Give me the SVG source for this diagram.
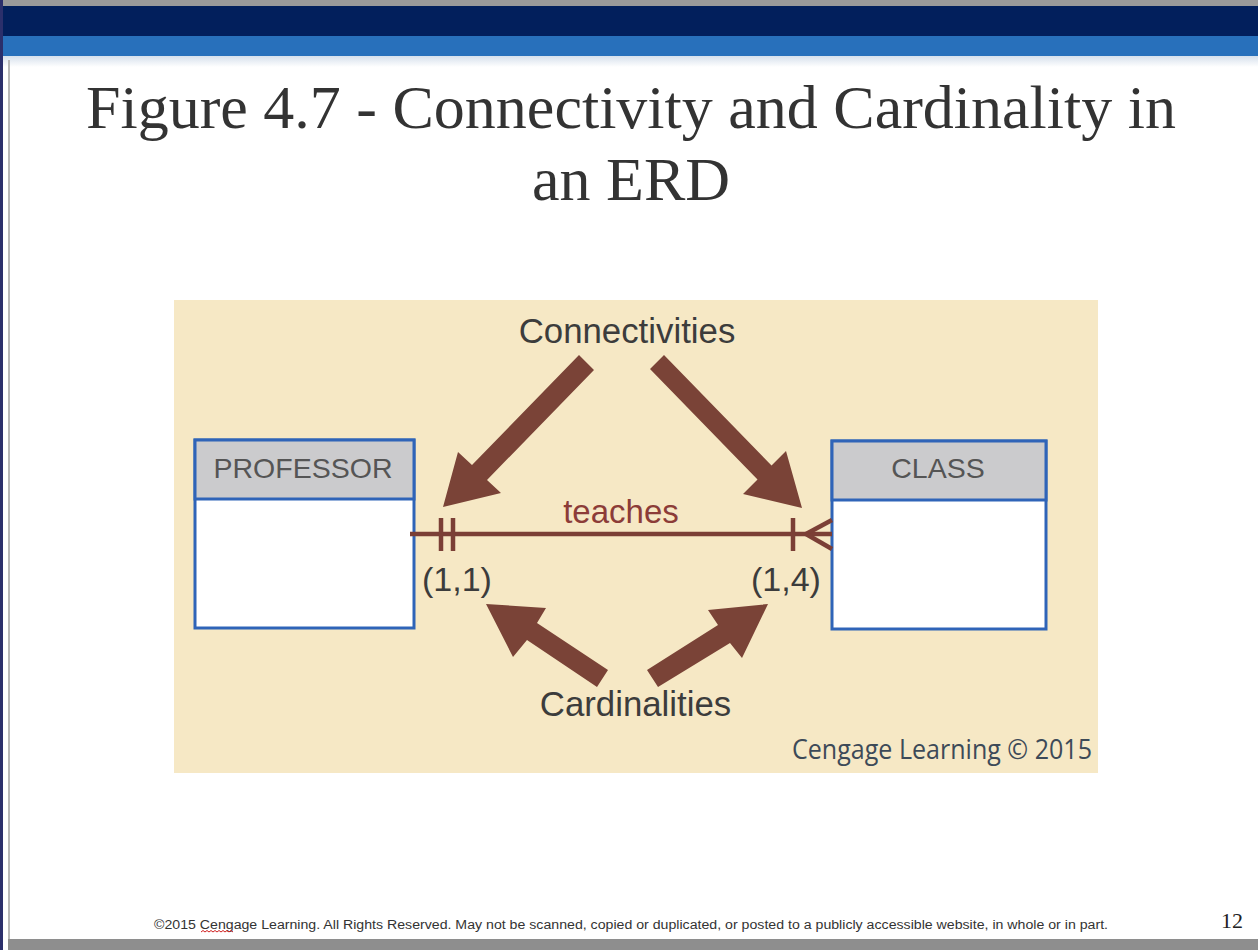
<svg xmlns="http://www.w3.org/2000/svg" width="1258" height="950" viewBox="0 0 1258 950">
<defs>
<linearGradient id="fade" x1="0" y1="0" x2="0" y2="1">
<stop offset="0" stop-color="#d6e0ec"/>
<stop offset="1" stop-color="#ffffff"/>
</linearGradient>
<style>
.ent{fill:#ffffff;stroke:#2f64b8;stroke-width:3}
.hdr{fill:#cbcbcd;stroke:#2f64b8;stroke-width:3}
.hdrtxt{font-family:"Liberation Sans",Arial,sans-serif;font-size:28.5px;fill:#555555;text-anchor:middle}
.lbl{font-family:"Liberation Sans",Arial,sans-serif;font-size:34.8px;fill:#3c3c3c;text-anchor:middle}
.card{font-family:"Liberation Sans",Arial,sans-serif;font-size:34px;fill:#3c3c3c}
.rel{stroke:#7b3f36;stroke-width:4.5;fill:none}
.arrow{fill:#7a4337}
.title{font-family:"Liberation Serif","Times New Roman",serif;font-size:62px;fill:#333333;text-anchor:middle}
</style>
</defs>
<rect x="0" y="0" width="1258" height="950" fill="#ffffff"/>
<rect x="0" y="0" width="1258" height="6" fill="#9a9a9a"/>
<rect x="0" y="6" width="1258" height="30" fill="#021f5c"/>
<rect x="0" y="36" width="1258" height="20" fill="#2870bb"/>
<rect x="0" y="56" width="1258" height="11" fill="url(#fade)"/>
<rect x="0" y="0" width="3" height="950" fill="#2b2f6b"/>
<rect x="8" y="60" width="2" height="880" fill="#b8b8b8"/>
<rect x="8" y="939" width="1250" height="11" fill="#8e8e8e"/>

<g id="title">
<text class="title" x="631" y="128">Figure 4.7 - Connectivity and Cardinality in</text>
<text class="title" x="631" y="200">an ERD</text>
</g>

<rect id="panel" x="174" y="300" width="924" height="473" fill="#f6e8c5"/>

<g id="professor">
<rect class="ent" x="195" y="440" width="219" height="188"/>
<rect class="hdr" x="195" y="440" width="219" height="59"/>
<text class="hdrtxt" x="303" y="478">PROFESSOR</text>
</g>

<g id="class">
<rect class="ent" x="832" y="441" width="214" height="188"/>
<rect class="hdr" x="832" y="441" width="214" height="59"/>
<text class="hdrtxt" x="938" y="478">CLASS</text>
</g>

<g id="connectors">
<line class="rel" x1="410" y1="534" x2="832" y2="534"/>
<line class="rel" x1="441" y1="518" x2="441" y2="551"/>
<line class="rel" x1="453" y1="518" x2="453" y2="551"/>
<line class="rel" x1="793" y1="518" x2="793" y2="551"/>
<line class="rel" x1="806" y1="534" x2="832" y2="520"/>
<line class="rel" x1="806" y1="534" x2="832" y2="549"/>
<text x="621" y="523" font-family="Liberation Sans, Arial, sans-serif" font-size="33" fill="#8c3c38" text-anchor="middle">teaches</text>
</g>

<g id="labels">
<text class="lbl" x="627" y="343">Connectivities</text>
<text class="lbl" x="635.5" y="716">Cardinalities</text>
<text class="card" x="422" y="591">(1,1)</text>
<text class="card" x="751" y="591">(1,4)</text>
</g>

<g id="arrows">
<polygon class="arrow" points="579,355 594,370 487,480 501,493 443,507 458,452 472,465"/>
<polygon class="arrow" points="664,355 771.5,465.5 786,451 802,508 743,494 757.5,479.5 650,369"/>
<polygon class="arrow" points="486,604 546,608 537,623 608,670 597,687 527,640 513,657"/>
<polygon class="arrow" points="768,604 742,658 730,643 658,687 647,670 718,625 708,610"/>
</g>

<text id="credit" x="1092" y="759" text-anchor="end" font-family="Open Sans, Liberation Sans, sans-serif" font-size="27" fill="#3d4a58" textLength="300" lengthAdjust="spacingAndGlyphs">Cengage Learning © 2015</text>

<g id="footer">
<text x="154" y="929" font-family="Liberation Sans Narrow, Liberation Sans, sans-serif" font-size="12" fill="#333333" textLength="954" lengthAdjust="spacingAndGlyphs">©2015 Cengage Learning. All Rights Reserved. May not be scanned, copied or duplicated, or posted to a publicly accessible website, in whole or in part.</text>
<path d="M201,932 l2,-1.5 l2,1.5 l2,-1.5 l2,1.5 l2,-1.5 l2,1.5 l2,-1.5 l2,1.5 l2,-1.5 l2,1.5 l2,-1.5 l2,1.5 l2,-1.5 l2,1.5 l2,-1.5 l2,1.5" fill="none" stroke="#d02020" stroke-width="1"/>
<text x="1243" y="928" text-anchor="end" font-family="Liberation Serif, Times New Roman, serif" font-size="22" fill="#222222">12</text>
</g>
</svg>
